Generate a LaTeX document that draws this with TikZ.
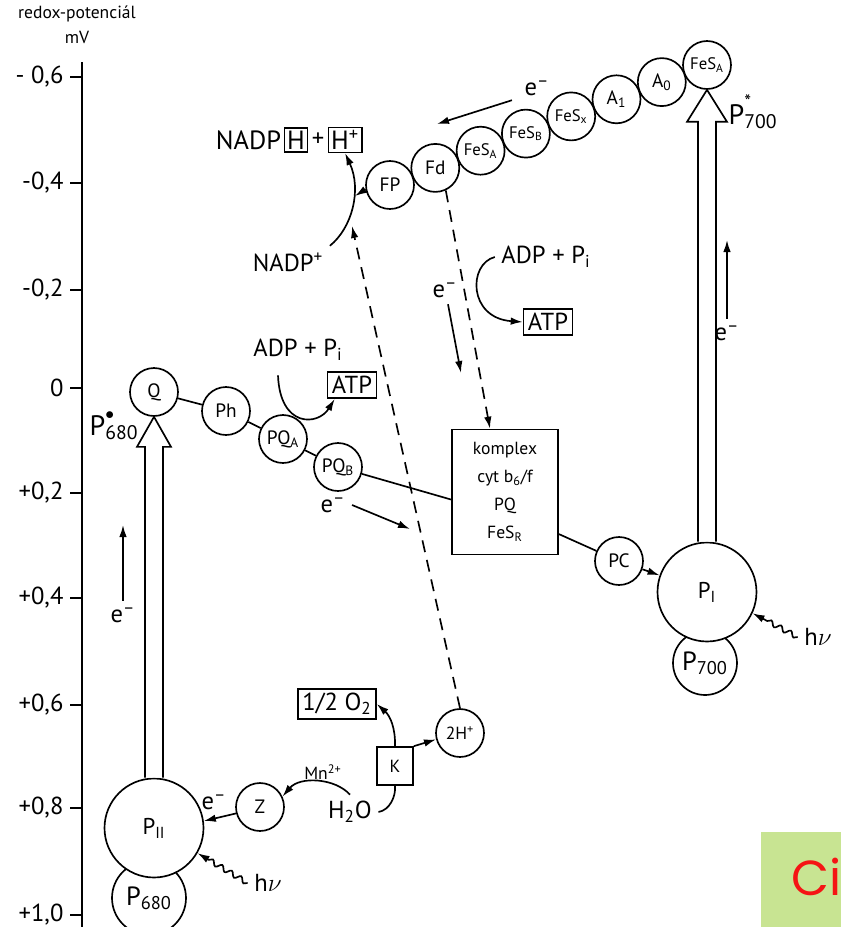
\documentclass[tikz,border=0pt]{standalone}
\usepackage{fontspec}
\setmainfont{PT Sans}
\newfontfamily\cifont{Poppins}
\usetikzlibrary{arrows.meta,positioning,calc,decorations.pathmorphing}
\definecolor{cigreen}{RGB}{200,228,146}
\definecolor{cired}{RGB}{245,20,20}

\begin{document}
\begin{tikzpicture}[
  x=0.02cm, y=-0.02cm,
  line width=0.95pt,
  font=\fontsize{14}{16}\selectfont,
  carrier/.style={draw, circle, minimum size=9.6mm, inner sep=0pt, fill=white, font=\fontsize{11}{12}\selectfont},
  fes/.style={carrier, font=\fontsize{9.5}{10}\selectfont},
  photosys/.style={draw, circle, minimum size=19.8mm, inner sep=0pt, fill=white, font=\fontsize{13}{14}\selectfont},
  pigment/.style={draw, circle, inner sep=0pt, fill=white, font=\fontsize{15}{16}\selectfont},
  boxed/.style={draw, inner sep=2.5pt},
  small/.style={font=\fontsize{10}{12}\selectfont},
  arrow/.style={-{Latex[length=2.4mm,width=1.5mm]}},
  dasharrow/.style={arrow, dash pattern=on 2.4mm off 1.6mm},
  photon/.style={arrow, decorate, decoration={snake, amplitude=0.5mm, segment length=2.2mm, post length=2.5mm}},
  tick/.style={anchor=east, inner sep=1pt}
]
\useasboundingbox (0,0) rectangle (841,927);

% redox axis
\node[small] (axtitle) at (77,14) {redox-potenciál};
\node[small] (axunit) at (77,37) {mV};
\draw (82,62) -- (82,927);
\foreach \lab/\ypos in {{- 0,6}/77, {-0,4}/183, {-0,2}/290, {0}/388, {+0,2}/493, {+0,4}/598, {+0,6}/705, {+0,8}/808, {+1,0}/915} {
  \draw (70,\ypos) -- (82,\ypos);
  \node[tick] (tick\ypos) at (66,\ypos) {\lab};
}

% photosystem II
\node[pigment, minimum size=14.8mm] (P680) at (149,898) {P\textsubscript{680}};
\node[photosys] (PII) at (154,828) {P\textsubscript{II}};
\node[carrier] (Q) at (154,392) {Q};
\node[carrier] (Ph) at (226,411) {Ph};
\node[carrier] (PQA) at (283,439) {PQ\textsubscript{A}};
\node[carrier] (PQB) at (338,467) {PQ\textsubscript{B}};
\draw (Q) -- (Ph);
\draw (Ph) -- (PQA);
\draw (PQA) -- (PQB);
\draw[fill=white] ($(PII.north)+(-9,0)$) -- ($(Q.south)+(-9,30)$) -- ($(Q.south)+(-17,30)$) -- (Q.south)
  -- ($(Q.south)+(17,30)$) -- ($(Q.south)+(9,30)$) -- ($(PII.north)+(9,0)$);
\node (pstarII) at (114,426) {\fontsize{16}{16}\selectfont P\rlap{\raisebox{1.1ex}{\fontsize{10}{10}\selectfont$\bullet$}}\textsubscript{680}};
\node (eleft) at (123,615) {e\textsuperscript{--}};
\coordinate (elefttip) at (123,525);
\draw[arrow] (eleft.north) -- (elefttip);

% water splitting
\node[carrier] (Z) at (260,807) {Z};
\draw[arrow] (Z.195) -- (PII.8);
\node (ez) at (214,802) {e\textsuperscript{--}};
\node[small] (mn) at (323,772) {Mn\textsuperscript{2+}};
\node (water) at (350,812) {H\textsubscript{2}O};
\draw[arrow] (water.north) .. controls (335,778) and (300,776) .. (Z.25);
\node[draw, minimum width=7.2mm, minimum height=7.6mm, inner sep=0pt, small] (K) at (395,766) {K};
\draw (water.east) .. controls (390,810) and (396,796) .. (K.south);
\node[boxed] (halfo) at (337,704) {1/2 O\textsubscript{2}};
\draw[arrow] (K.north) to[bend right=25] (halfo.east);
\node[carrier, small] (twoH) at (460,733) {2H\textsuperscript{+}};
\draw[arrow] (K.north east) -- (twoH.195);
\node (hvII) at (268,883) {h$\nu$};
\draw[photon] (hvII.west) -- (PII.-30);

% lower phosphorylation
\node (adpb) at (298,350) {ADP + P\textsubscript{i}};
\node[boxed] (atpb) at (352,385) {ATP};
\draw[arrow] ($(adpb.south)+(-20,8)$) .. controls (280,428) and (318,426) .. ($(atpb.south west)+(8,0)$);

% cytochrome complex
\node[draw, minimum width=21.2mm, minimum height=25mm, align=center, font=\fontsize{10}{16}\selectfont] (komplex) at (505,492)
  {komplex\\cyt b\textsubscript{6}/f\\PQ\\FeS\textsubscript{R}};
\draw (PQB) -- (komplex.188);
\node[carrier] (PC) at (619,561) {PC};
\draw (komplex.-38) -- (PC);
\node (ekom) at (333,505) {e\textsuperscript{--}};
\coordinate (ekomtip) at (410,529);
\draw[arrow] (ekom.east) -- (ekomtip);

% photosystem I
\node[pigment, minimum size=12.8mm] (P700) at (705,663) {P\textsubscript{700}};
\node[photosys] (PI) at (707,592) {P\textsubscript{I}};
\draw[arrow] (PC) -- (PI);
\node (hvI) at (818,637) {h$\nu$};
\draw[photon] (hvI.west) -- (PI.-25);

% acceptor chain
\node[carrier] (FP) at (390,185) {FP};
\node[carrier] (Fd) at (435.3,167.9) {Fd};
\node[fes] (FeSA) at (480.6,150.7) {FeS\textsubscript{A}};
\node[fes] (FeSB) at (525.9,133.6) {FeS\textsubscript{B}};
\node[fes] (FeSX) at (571.2,116.4) {FeS\textsubscript{x}};
\node[carrier] (A1) at (616.5,99.3) {A\textsubscript{1}};
\node[carrier] (A0) at (661.8,82.1) {A\textsubscript{0}};
\node[fes] (FeStop) at (707,65) {FeS\textsubscript{A}};
\draw[fill=white] ($(PI.north)+(-9,0)$) -- ($(FeStop.south)+(-9,32)$) -- ($(FeStop.south)+(-20,32)$) -- (FeStop.south)
  -- ($(FeStop.south)+(20,32)$) -- ($(FeStop.south)+(9,32)$) -- ($(PI.north)+(9,0)$);
\node[inner sep=0pt] (pstarI) at (753,112) {\fontsize{16}{16}\selectfont P\rlap{\raisebox{1.1ex}{\fontsize{11}{11}\selectfont *}}\textsubscript{700}};
\node (eright) at (727,333) {e\textsuperscript{--}};
\coordinate (erighttip) at (727,240);
\draw[arrow] (eright.north) -- (erighttip);
\node (etop) at (537,88) {e\textsuperscript{--}};
\coordinate (etoptip) at (437,124);
\draw[arrow] ($(etop.south west)+(-6,-2)$) -- (etoptip);

% NADP reduction
\node[boxed, inner sep=1.5pt, font=\fontsize{15}{16}\selectfont] (hbox) at (296,140) {H};
\node[left=0pt of hbox, inner sep=1pt, font=\fontsize{15}{16}\selectfont] (nadph) {NADP};
\node[right=0pt of hbox, inner sep=1.5pt] (plus) {+};
\node[boxed, inner sep=1.5pt, right=0pt of plus, font=\fontsize{15}{16}\selectfont] (hplus) {H\textsuperscript{+}};
\node (nadpp) at (288,262) {NADP\textsuperscript{+}};
\draw[arrow] (nadpp.north east) .. controls (352,228) and (362,190) .. (hplus.south);
\coordinate (nadpjoin) at (355,196);
\draw[arrow] (FP.190) -- (nadpjoin);
\coordinate (nadpin) at (352,226);
\draw[dasharrow] (twoH.north) -- (nadpin);

% upper phosphorylation
\draw[dasharrow] (Fd.-65) -- ($(komplex.north)+(-15,0)$);
\node (adpa) at (546,257) {ADP + P\textsubscript{i}};
\node[boxed] (atpa) at (548,322) {ATP};
\draw[arrow] (adpa.west) .. controls (468,264) and (468,318) .. (atpa.west);
\node (emid) at (445,290) {e\textsuperscript{--}};
\coordinate (emidtip) at (461,373);
\draw[arrow] ($(emid.south)+(3,0)$) -- (emidtip);

% corner tag
\fill[cigreen] (761,832) rectangle (841,927);
\begin{scope}
  \clip (761,832) rectangle (841,927);
  \node[anchor=base west, inner sep=0pt, text=cired, font=\cifont\fontsize{28}{30}\selectfont] (ci) at (791,895) {Ci};
\end{scope}
\end{tikzpicture}
\end{document}
